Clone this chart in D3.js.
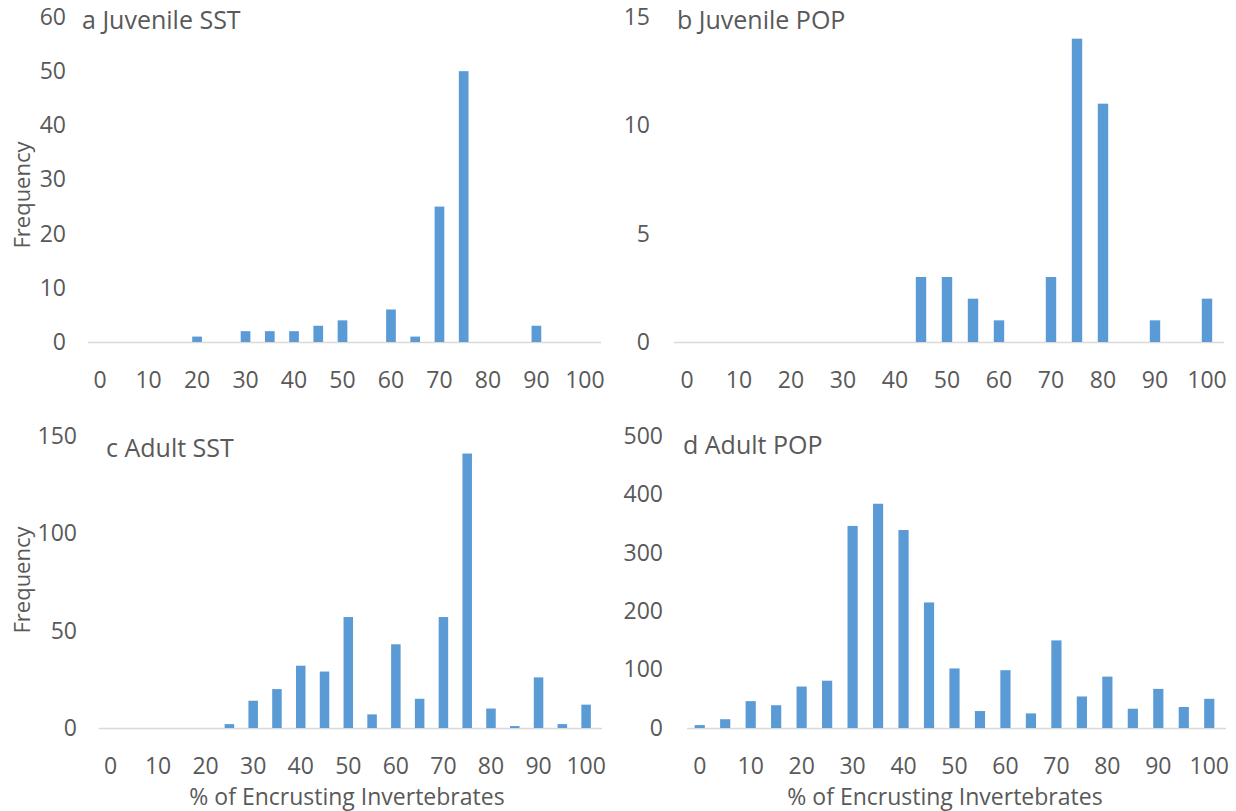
<!DOCTYPE html>
<html><head><meta charset="utf-8">
<script src="https://cdn.jsdelivr.net/npm/d3@7"></script>
<style>
body{margin:0;background:#fff;}
text{font-family:"Open Sans",sans-serif;fill:#595959;}
</style></head>
<body><svg id="c" width="1236" height="811"></svg>
<script>
const categories = [0,5,10,15,20,25,30,35,40,45,50,55,60,65,70,75,80,85,90,95,100];
const xTickLabels = [0,10,20,30,40,50,60,70,80,90,100];
const juvenileSST = [0,0,0,0,1,0,2,2,2,3,4,0,6,1,25,50,0,0,3,0,0];
const juvenilePOP = [0,0,0,0,0,0,0,0,0,3,3,2,1,0,3,14,11,0,1,0,2];
const adultSST    = [0,0,0,0,0,2,14,20,32,29,57,7,43,15,57,141,10,1,26,2,12];
const adultPOP    = [5,15,46,39,71,81,346,384,339,215,102,29,99,25,150,54,88,33,67,36,50];
const yTicksA = [0,10,20,30,40,50,60];
const yTicksB = [0,5,10,15];
const yTicksC = [0,50,100,150];
const yTicksD = [0,100,200,300,400,500];
const titles = ["a Juvenile SST","b Juvenile POP","c Adult SST","d Adult POP"];
const yLabel = "Frequency";
const xLabel = "% of Encrusting Invertebrates";

const FONT = "'Open Sans',sans-serif";
const panels = [
  {vals:juvenileSST, ticks:yTicksA, title:titles[0], xr:[88,597], yr:[342,17], yLabX:66, tx:82, ty:29, freq:{x:22,y:195}, xt:null},
  {vals:juvenilePOP, ticks:yTicksB, title:titles[1], xr:[674,1220], yr:[342,17], yLabX:650, tx:677, ty:29, freq:null, xt:null},
  {vals:adultSST, ticks:yTicksC, title:titles[2], xr:[98.6,598], yr:[728,436], yLabX:77, tx:106, ty:457, freq:{x:22,y:580}, xt:{x:347,y:805}},
  {vals:adultPOP, ticks:yTicksD, title:titles[3], xr:[687,1222], yr:[728,436], yLabX:663, tx:683, ty:454, freq:null, xt:{x:945,y:805}}
];

const svg = d3.select("#c");
panels.forEach(p=>{
  const x = d3.scaleBand().domain(categories).range(p.xr).paddingInner(0.6).paddingOuter(0.3);
  const y = d3.scaleLinear().domain([0, d3.max(p.ticks)]).range(p.yr);
  const g = svg.append("g");
  g.append("line").attr("x1",p.xr[0]).attr("x2",p.xr[1]+4).attr("y1",y(0)+0.5).attr("y2",y(0)+0.5)
    .attr("stroke","#d9d9d9").attr("stroke-width",1.5);
  g.selectAll("rect").data(categories.map((c,i)=>({c, v:p.vals[i]})).filter(d=>d.v>0))
    .join("rect")
    .attr("x",d=>x(d.c)).attr("width",x.bandwidth())
    .attr("y",d=>y(d.v)).attr("height",d=>y(0)-y(d.v))
    .attr("fill","#5b9bd5");
  const xa = g.append("g").attr("transform",`translate(0,${y(0)+39})`)
    .call(d3.axisBottom(x).tickValues(xTickLabels).tickSize(0).tickPadding(0));
  xa.select(".domain").remove();
  xa.selectAll("text").attr("font-size",23).attr("dy","0.32em").style("font-family",FONT).attr("fill","#595959");
  const ya = g.append("g").attr("transform",`translate(${p.yLabX},0)`)
    .call(d3.axisLeft(y).tickValues(p.ticks).tickSize(0).tickPadding(0));
  ya.select(".domain").remove();
  ya.selectAll("text").attr("font-size",23).style("font-family",FONT).attr("fill","#595959");
  g.append("text").attr("x",p.tx).attr("y",p.ty).attr("font-size",25).text(p.title);
  if(p.freq){
    g.append("text").attr("transform",`translate(${p.freq.x},${p.freq.y}) rotate(-90)`)
      .attr("text-anchor","middle").attr("dy","0.35em").attr("font-size",22).text(yLabel);
  }
  if(p.xt){
    g.append("text").attr("x",p.xt.x).attr("y",p.xt.y).attr("text-anchor","middle")
      .attr("font-size",23).text(xLabel);
  }
});
</script></body></html>
